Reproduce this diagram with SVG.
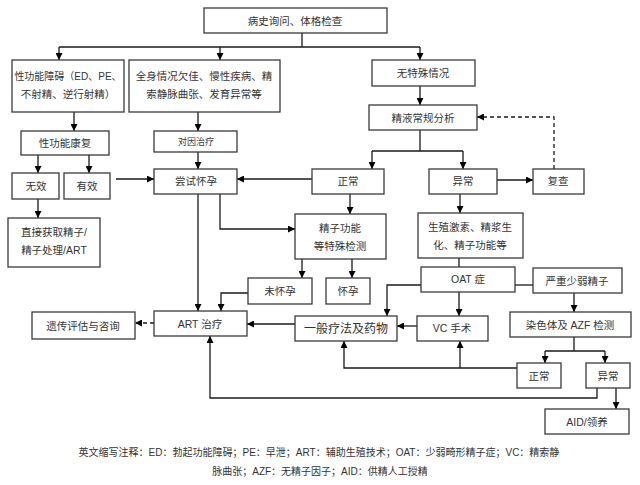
<svg xmlns="http://www.w3.org/2000/svg" width="640" height="485" viewBox="0 0 640 485">
<defs>
<style>
.b{fill:#fff;stroke:#3a3a3a;stroke-width:1.3}
.t{font-family:"Liberation Sans","Noto Sans CJK SC",sans-serif;font-size:10.5px;fill:#333;text-anchor:middle}
.l{fill:none;stroke:#1a1a1a;stroke-width:1.3}
.d{fill:none;stroke:#1a1a1a;stroke-width:1.3;stroke-dasharray:4 3}
</style>
<marker id="a" viewBox="0 0 10 10" refX="10" refY="5" markerWidth="7" markerHeight="7" markerUnits="userSpaceOnUse" orient="auto">
<path d="M0,0L10,5L0,10z" fill="#000"/>
</marker>
</defs>
<rect width="640" height="485" fill="#fff"/>
<g id="connectors">
<path class="l" d="M302,33V47M59,47H420"/>
<path class="l" marker-end="url(#a)" d="M59,47V60"/>
<path class="l" marker-end="url(#a)" d="M220,47V60"/>
<path class="l" marker-end="url(#a)" d="M420,47V60"/>
<path class="l" marker-end="url(#a)" d="M420,86V105"/>
<path class="l" d="M420,130V151M372,151H463"/>
<path class="l" marker-end="url(#a)" d="M372,151V169"/>
<path class="l" marker-end="url(#a)" d="M463,151V169"/>
<path class="l" marker-end="url(#a)" d="M497,180H533"/>
<path class="d" marker-end="url(#a)" d="M554,169V117H477"/>
<path class="l" marker-end="url(#a)" d="M74,112V131"/>
<path class="l" marker-end="url(#a)" d="M38,155V173"/>
<path class="l" marker-end="url(#a)" d="M89,155V173"/>
<path class="l" marker-end="url(#a)" d="M38,199V218"/>
<path class="l" marker-end="url(#a)" d="M116,179H154"/>
<path class="l" marker-end="url(#a)" d="M198,112V131"/>
<path class="l" marker-end="url(#a)" d="M198,152V169"/>
<path class="l" marker-end="url(#a)" d="M312,179H237"/>
<path class="l" marker-end="url(#a)" d="M198,194V311"/>
<path class="l" marker-end="url(#a)" d="M220,194V229H295"/>
<path class="l" marker-end="url(#a)" d="M350,194V214"/>
<path class="l" marker-end="url(#a)" d="M302,259V278"/>
<path class="l" marker-end="url(#a)" d="M352,259V278"/>
<path class="l" marker-end="url(#a)" d="M248,293H221V311"/>
<path class="d" marker-end="url(#a)" d="M154,323H135"/>
<path class="l" marker-end="url(#a)" d="M295,324H247"/>
<path class="l" marker-end="url(#a)" d="M460,194V213"/>
<path class="l" d="M459,258V267"/>
<path class="l" marker-end="url(#a)" d="M421,285H387V316"/>
<path class="l" marker-end="url(#a)" d="M459,292V316"/>
<path class="l" d="M515,285H533"/>
<path class="l" marker-end="url(#a)" d="M417,326H397"/>
<path class="l" marker-end="url(#a)" d="M574,293V312"/>
<path class="l" d="M574,337V351M545,351H605"/>
<path class="l" marker-end="url(#a)" d="M545,351V363"/>
<path class="l" marker-end="url(#a)" d="M605,351V363"/>
<path class="l" marker-end="url(#a)" d="M517,368H344V341"/>
<path class="l" marker-end="url(#a)" d="M460,368V341"/>
<path class="l" marker-end="url(#a)" d="M597,388V398H210V336"/>
<path class="l" marker-end="url(#a)" d="M616,388V409"/>
</g>
<g id="n1"><rect class="b" x="204" y="8" width="183" height="25"/><text class="t" x="295" y="25">病史询问、体格检查</text></g>
<g id="n2"><rect class="b" x="12" y="60" width="112" height="52"/><text class="t" x="68" y="80" style="font-size:10px">性功能障碍（ED、PE、</text><text class="t" x="68" y="98">不射精、逆行射精）</text></g>
<g id="n3"><rect class="b" x="129" y="60" width="151" height="52"/><text class="t" x="204" y="80">全身情况欠佳、慢性疾病、精</text><text class="t" x="204" y="98">索静脉曲张、发育异常等</text></g>
<g id="n4"><rect class="b" x="372" y="60" width="103" height="26"/><text class="t" x="423" y="77">无特殊情况</text></g>
<g id="n5"><rect class="b" x="369" y="105" width="108" height="25"/><text class="t" x="423" y="122">精液常规分析</text></g>
<g id="n6"><rect class="b" x="21" y="131" width="88" height="24"/><text class="t" x="65" y="147">性功能康复</text></g>
<g id="n7"><rect class="b" x="154" y="131" width="83" height="21"/><text class="t" x="196" y="145" style="font-size:9px">对因治疗</text></g>
<g id="n8"><rect class="b" x="12" y="173" width="47" height="26"/><text class="t" x="36" y="190">无效</text></g>
<g id="n9"><rect class="b" x="64" y="173" width="46" height="26"/><text class="t" x="87" y="190">有效</text></g>
<g id="n10"><rect class="b" x="154" y="169" width="83" height="25"/><text class="t" x="196" y="185">尝试怀孕</text></g>
<g id="n11"><rect class="b" x="312" y="169" width="72" height="25"/><text class="t" x="348" y="185">正常</text></g>
<g id="n12"><rect class="b" x="429" y="169" width="68" height="25"/><text class="t" x="463" y="185">异常</text></g>
<g id="n13"><rect class="b" x="533" y="169" width="51" height="25"/><text class="t" x="558" y="185">复查</text></g>
<g id="n14"><rect class="b" x="8" y="218" width="92" height="49"/><text class="t" x="54" y="236">直接获取精子/</text><text class="t" x="54" y="254">精子处理/ART</text></g>
<g id="n15"><rect class="b" x="295" y="214" width="91" height="45"/><text class="t" x="340" y="232">精子功能</text><text class="t" x="340" y="250">等特殊检测</text></g>
<g id="n16"><rect class="b" x="418" y="213" width="105" height="45"/><text class="t" x="470" y="231">生殖激素、精浆生</text><text class="t" x="470" y="249">化、精子功能等</text></g>
<g id="n17"><rect class="b" x="248" y="278" width="64" height="26"/><text class="t" x="280" y="295">未怀孕</text></g>
<g id="n18"><rect class="b" x="326" y="278" width="44" height="26"/><text class="t" x="348" y="295">怀孕</text></g>
<g id="n19"><rect class="b" x="421" y="267" width="94" height="25"/><text class="t" x="468" y="283">OAT 症</text></g>
<g id="n20"><rect class="b" x="533" y="268" width="89" height="25"/><text class="t" x="577" y="285">严重少弱精子</text></g>
<g id="n21"><rect class="b" x="32" y="312" width="103" height="27"/><text class="t" x="83" y="330">遗传评估与咨询</text></g>
<g id="n22"><rect class="b" x="154" y="311" width="93" height="25"/><text class="t" x="200" y="328">ART 治疗</text></g>
<g id="n23"><rect class="b" x="295" y="316" width="102" height="25"/><text class="t" x="346" y="333" style="font-size:12px">一般疗法及药物</text></g>
<g id="n24"><rect class="b" x="417" y="316" width="71" height="25"/><text class="t" x="452" y="332">VC 手术</text></g>
<g id="n25"><rect class="b" x="510" y="312" width="121" height="25"/><text class="t" x="570" y="329">染色体及 AZF 检测</text></g>
<g id="n26"><rect class="b" x="517" y="363" width="44" height="25"/><text class="t" x="539" y="380">正常</text></g>
<g id="n27"><rect class="b" x="586" y="363" width="44" height="25"/><text class="t" x="608" y="380">异常</text></g>
<g id="n28"><rect class="b" x="545" y="409" width="84" height="25"/><text class="t" x="587" y="426">AID/领养</text></g>
<g id="note">
<text class="t" x="319" y="456" style="font-size:10px">英文缩写注释：ED：勃起功能障碍；PE：早泄；ART：辅助生殖技术；OAT：少弱畸形精子症；VC：精索静</text>
<text class="t" x="320" y="475" style="font-size:10px">脉曲张；AZF：无精子因子；AID：供精人工授精</text>
</g>
</svg>
